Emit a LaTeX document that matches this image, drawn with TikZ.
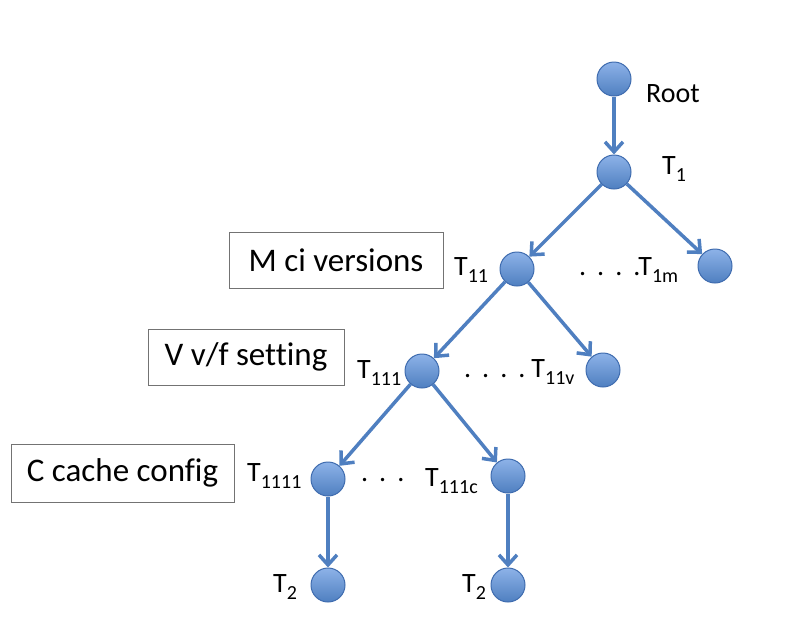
\documentclass[tikz,border=0pt]{standalone}
\usepackage{fontspec}
\setmainfont[Ligatures=NoCommon]{Carlito}
\usetikzlibrary{arrows.meta}
\definecolor{treeblue}{RGB}{79,127,192}
\definecolor{treelight}{RGB}{141,178,232}
\definecolor{treedark}{RGB}{63,108,175}
\newcommand{\gap}{\hspace{11pt}}
\newcommand{\sub}[1]{\raisebox{-7pt}{\fontsize{20}{24}\selectfont #1}}

\begin{document}
\begin{tikzpicture}[x=1pt, y=-1pt,
    tree node/.style={circle, minimum size=34pt, inner sep=0pt, top color=treelight, bottom color=treeblue, draw=treedark, line width=1pt},
    tree edge/.style={-{Straight Barb[length=10pt, width=18pt]}, draw=treeblue, line width=3.5pt},
    tree label/.style={anchor=base west, inner sep=0pt, font=\fontsize{28}{33}\selectfont},
    level box/.style={draw=black!55, line width=0.8pt, inner sep=0pt, font=\fontsize{33}{39}\selectfont}
  ]
  \useasboundingbox (0,0) rectangle (803,643);

  % tree nodes
  \node [tree node] (root) at (614,79) {};
  \node [tree node] (t1) at (614,172) {};
  \node [tree node] (t11) at (517,269) {};
  \node [tree node] (t1m) at (715,266) {};
  \node [tree node] (t111) at (422,371) {};
  \node [tree node] (t11v) at (603,370) {};
  \node [tree node] (t1111) at (328,479) {};
  \node [tree node] (t111c) at (508,476) {};
  \node [tree node] (t2a) at (328,585) {};
  \node [tree node] (t2b) at (508,585) {};

  % edges
  \draw [tree edge] (root) -- (t1);
  \draw [tree edge] (t1) -- (t11);
  \draw [tree edge] (t1) -- (t1m);
  \draw [tree edge] (t11) -- (t111);
  \draw [tree edge] (t11) -- (t11v);
  \draw [tree edge] (t111) -- (t1111);
  \draw [tree edge] (t111) -- (t111c);
  \draw [tree edge] (t1111) -- (t2a);
  \draw [tree edge] (t111c) -- (t2b);

  % labels
  \node [tree label] (lroot) at (646,102) {Root};
  \node [tree label] (lt1) at (662,174) {T\sub{1}};
  \node [tree label] (lt11) at (454,275) {T\sub{11}};
  \node [tree label] (lt1m) at (579,275) {.\gap.\gap.\gap.T\sub{1m}};
  \node [tree label] (lt111) at (357,378) {T\sub{111}};
  \node [tree label] (lt11v) at (464,377) {.\gap.\gap.\gap.\hspace{6pt}T\sub{11v}};
  \node [tree label] (lt1111) at (247,481) {T\sub{1111}};
  \node [tree label] (ldots) at (361,481) {.\gap.\gap.};
  \node [tree label] (lt111c) at (425,486) {T\sub{111c}};
  \node [tree label] (lt2a) at (273,592) {T\sub{2}};
  \node [tree label] (lt2b) at (462,592) {T\sub{2}};

  % level boxes
  \node [level box, minimum width=214pt, minimum height=56pt] (mbox) at (336,260) {M ci versions};
  \node [level box, minimum width=196pt, minimum height=56pt] (vbox) at (246,357) {V v/f setting};
  \node [level box, minimum width=223pt, minimum height=58pt] (cbox) at (122.5,473) {C cache config};
\end{tikzpicture}
\end{document}
